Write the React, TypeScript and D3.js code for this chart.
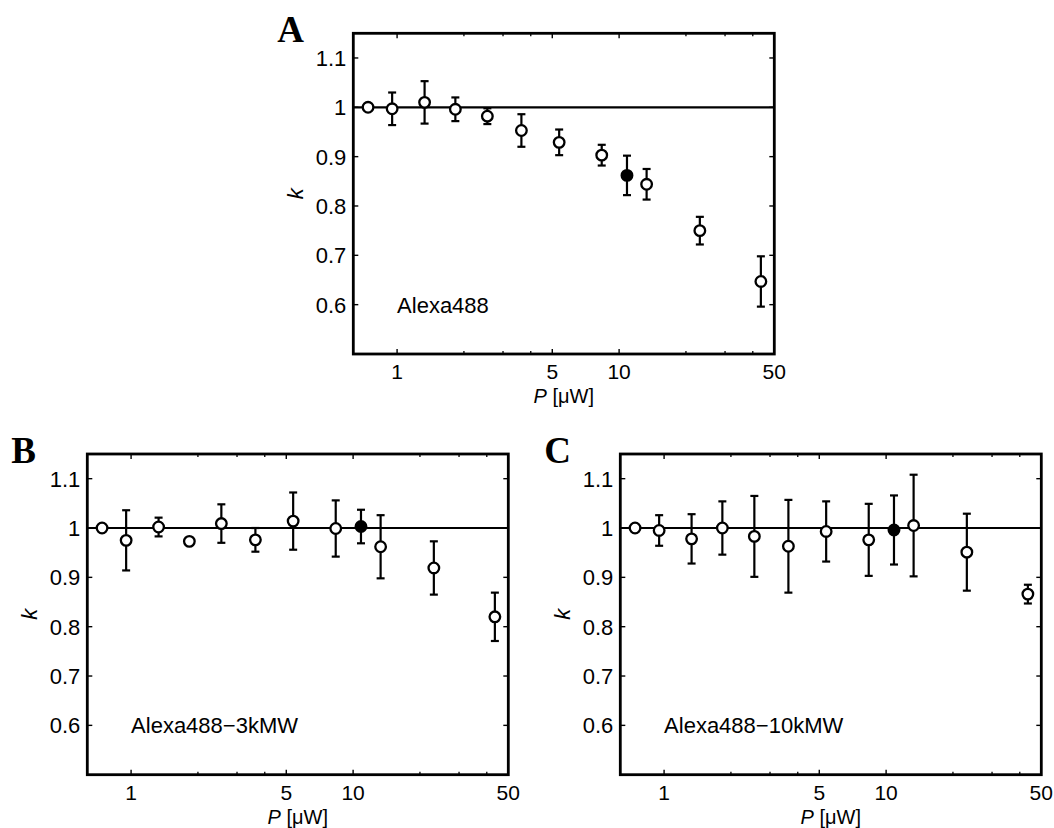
import React from "react";
import * as d3 from "d3";

// ---- data ----
const powers = [0.74, 0.95, 1.33, 1.83, 2.55, 3.63, 5.37, 8.35, 10.85, 13.3, 23.1, 43.5];
const filledIndex = 8;

const kA = [1.0, 0.997, 1.01, 0.996, 0.982, 0.953, 0.929, 0.903, 0.862, 0.844, 0.75, 0.647];
const errA = [0, 0.033, 0.043, 0.024, 0.016, 0.033, 0.026, 0.021, 0.04, 0.031, 0.028, 0.051];

const kB = [1.0, 0.975, 1.002, 0.973, 1.009, 0.976, 1.014, 0.999, 1.003, 0.962, 0.919, 0.82];
const errB = [0, 0.061, 0.019, 0, 0.039, 0.024, 0.058, 0.057, 0.034, 0.064, 0.054, 0.049];

const kC = [1.0, 0.995, 0.978, 1.0, 0.983, 0.963, 0.993, 0.976, 0.996, 1.005, 0.951, 0.866];
const errC = [0, 0.031, 0.05, 0.054, 0.082, 0.094, 0.061, 0.073, 0.07, 0.103, 0.078, 0.019];

const xTickLabels = [1, 5, 10, 50];
const xMinorTicks = [2, 3, 4, 20, 30, 40];
const yTicks = [0.6, 0.7, 0.8, 0.9, 1.0, 1.1];
const xDomain: [number, number] = [0.635, 50];
const yDomain: [number, number] = [0.5, 1.15];

const panels = [
  { letter: "A", name: "Alexa488", k: kA, err: errA, left: 353.3, top: 33.3 },
  { letter: "B", name: "Alexa488\u22123kMW", k: kB, err: errB, left: 87.3, top: 454 },
  { letter: "C", name: "Alexa488\u221210kMW", k: kC, err: errC, left: 620.3, top: 454 },
];

const W = 421;
const H = 320.7;
const SANS = '"Liberation Sans", Arial, Helvetica, sans-serif';
const SERIF = '"Liberation Serif", "Times New Roman", serif';
const FS = 22;

function fmt(v: number) {
  return v === 1 ? "1" : d3.format(".1f")(v);
}

function Panel({ p }: { p: (typeof panels)[number] }) {
  const x = d3.scaleLog().domain(xDomain).range([0, W]);
  const y = d3.scaleLinear().domain(yDomain).range([H, 0]);
  const major = 5;
  const minor = 3;
  return (
    <g transform={`translate(${p.left},${p.top})`}>
      {/* panel letter */}
      <text x={-76} y={9} fontFamily={SERIF} fontWeight="bold" fontSize={37}>
        {p.letter}
      </text>
      {/* reference line */}
      <line x1={0} x2={W} y1={y(1)} y2={y(1)} stroke="#000" strokeWidth={2.2} />
      {/* x ticks */}
      {xTickLabels.map((t) => (
        <g key={"xt" + t}>
          <line x1={x(t)} x2={x(t)} y1={H} y2={H - major} stroke="#000" strokeWidth={1.4} />
          <line x1={x(t)} x2={x(t)} y1={0} y2={major} stroke="#000" strokeWidth={1.4} />
          <text x={x(t)} y={H + 25.5} textAnchor="middle" fontFamily={SANS} fontSize={FS - 1}>
            {t}
          </text>
        </g>
      ))}
      {xMinorTicks.map((t) => (
        <g key={"xm" + t}>
          <line x1={x(t)} x2={x(t)} y1={H} y2={H - minor} stroke="#000" strokeWidth={1.3} />
          <line x1={x(t)} x2={x(t)} y1={0} y2={minor} stroke="#000" strokeWidth={1.3} />
        </g>
      ))}
      {/* y ticks */}
      {yTicks.map((t) => (
        <g key={"yt" + t}>
          <line x1={0} x2={major} y1={y(t)} y2={y(t)} stroke="#000" strokeWidth={1.4} />
          <line x1={W} x2={W - major} y1={y(t)} y2={y(t)} stroke="#000" strokeWidth={1.4} />
          <text
            x={-7}
            y={y(t)}
            dy="0.36em"
            textAnchor="end"
            fontFamily={SANS}
            fontSize={FS}
          >
            {fmt(t)}
          </text>
        </g>
      ))}
      {/* error bars */}
      {powers.map((pw, i) =>
        p.err[i] > 0 ? (
          <g key={"e" + i} stroke="#000" strokeWidth={2.2}>
            <line x1={x(pw)} x2={x(pw)} y1={y(p.k[i] + p.err[i])} y2={y(p.k[i] - p.err[i])} />
            <line x1={x(pw) - 4} x2={x(pw) + 4} y1={y(p.k[i] + p.err[i])} y2={y(p.k[i] + p.err[i])} />
            <line x1={x(pw) - 4} x2={x(pw) + 4} y1={y(p.k[i] - p.err[i])} y2={y(p.k[i] - p.err[i])} />
          </g>
        ) : null
      )}
      {/* markers */}
      {powers.map((pw, i) => (
        <circle
          key={"m" + i}
          cx={x(pw)}
          cy={y(p.k[i])}
          r={5.3}
          fill={i === filledIndex ? "#000" : "#fff"}
          stroke="#000"
          strokeWidth={2.3}
        />
      ))}
      {/* annotation */}
      <text x={x(1)} y={y(0.6)} dy="0.36em" fontFamily={SANS} fontSize={FS}>
        {p.name}
      </text>
      {/* frame */}
      <rect x={0} y={0} width={W} height={H} fill="none" stroke="#000" strokeWidth={2.8} />
      {/* axis labels */}
      <text
        x={W / 2}
        y={H + 49}
        textAnchor="middle"
        fontFamily={SANS}
        fontSize={FS - 2}
      >
        <tspan fontStyle="italic">P</tspan>
        <tspan> [μW]</tspan>
      </text>
      <text
        transform={`translate(-50,${H / 2}) rotate(-90)`}
        textAnchor="middle"
        fontFamily={SANS}
        fontStyle="italic"
        fontSize={FS}
      >
        k
      </text>
    </g>
  );
}

export default function App() {
  return (
    <svg
      width={1054}
      height={828}
      style={{ position: "absolute", left: 0, top: 0, background: "#fff" }}
    >
      <rect x={0} y={0} width={1054} height={828} fill="#fff" />
      {panels.map((p) => (
        <Panel key={p.letter} p={p} />
      ))}
    </svg>
  );
}
